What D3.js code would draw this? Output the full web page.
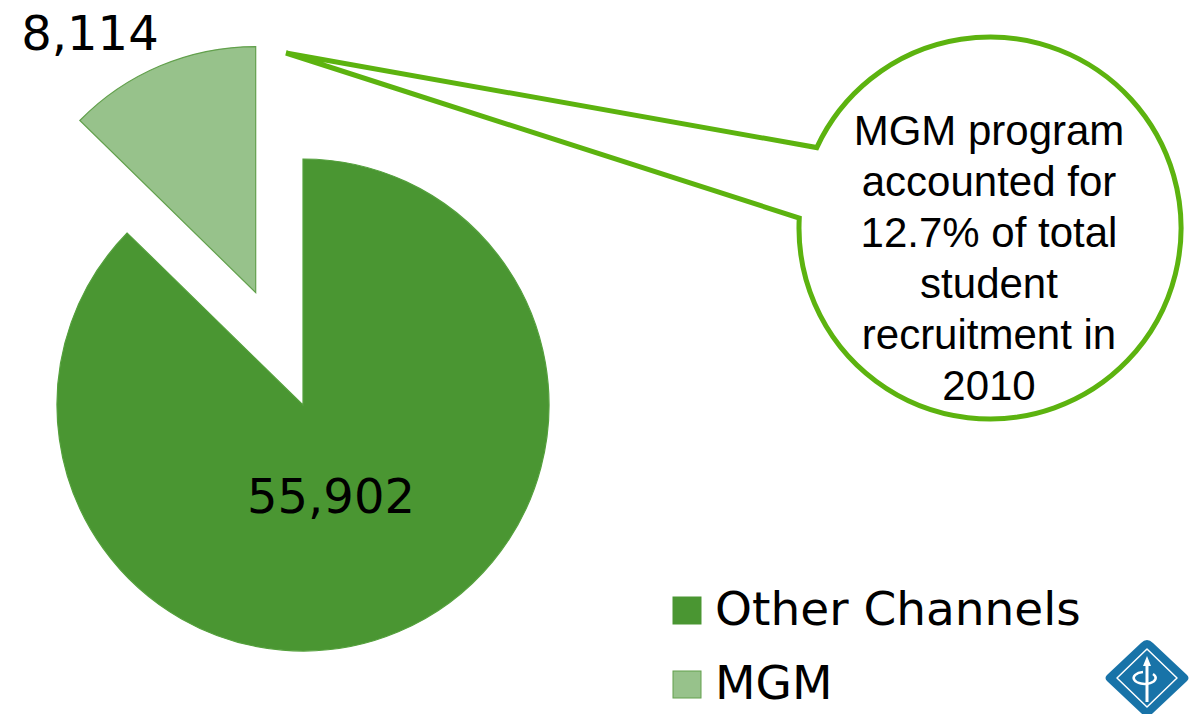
<!DOCTYPE html>
<html lang="en">
<head>
    <meta charset="UTF-8">
    <title>MGM share of student recruitment 2010</title>
    <script src="https://cdn.jsdelivr.net/npm/d3@7"></script>
    <style>
        body { margin: 0; background: #fff; }
        svg { display: block; }
    </style>
</head>
<body>
    <svg width="1190" height="714"></svg>
    <script>
        // data
        var channels = ['Other Channels', 'MGM'];
        var recruits = [55902, 8114];
        var colors = ['#4a9632', '#97c28b'];
        var strokes = ['#54a03c', '#62a04c'];
        var calloutLines = ['MGM program', 'accounted for', '12.7% of total', 'student', 'recruitment in', '2010'];

        var svg = d3.select('svg');

        // pie
        var cx = 303, cy = 405, r = 246, explode = 122;
        var pie = d3.pie().sort(null)(recruits);
        var arc = d3.arc().innerRadius(0).outerRadius(r);

        function offset(d, i) {
            if (i !== 1) return [0, 0];
            var a = (d.startAngle + d.endAngle) / 2;
            return [Math.sin(a) * explode, -Math.cos(a) * explode];
        }

        var slices = svg.append('g').attr('transform', 'translate(' + cx + ',' + cy + ')');
        slices.selectAll('path')
            .data(pie)
            .enter().append('path')
            .attr('d', arc)
            .attr('transform', function (d, i) {
                var o = offset(d, i);
                return 'translate(' + o[0] + ',' + o[1] + ')';
            })
            .style('fill', function (d, i) { return colors[i]; })
            .style('stroke', function (d, i) { return strokes[i]; })
            .style('stroke-width', 1.2);

        // value labels
        var fmt = d3.format(',');
        var labelPos = [[331, 513], [90, 50]];
        svg.append('g').selectAll('text')
            .data(recruits)
            .enter().append('text')
            .attr('x', function (d, i) { return labelPos[i][0]; })
            .attr('y', function (d, i) { return labelPos[i][1]; })
            .attr('text-anchor', 'middle')
            .style('font-family', 'Verdana, "DejaVu Sans", sans-serif')
            .style('font-size', '48px')
            .style('fill', '#000')
            .text(function (d) { return fmt(d); });

        // callout bubble
        var bx = 990, by = 228, br = 191;
        var tip = [286, 53];
        var a1 = 204.9 * Math.PI / 180, a2 = 183 * Math.PI / 180;
        var p1 = [bx + br * Math.cos(a1), by + br * Math.sin(a1)];
        var p2 = [bx + br * Math.cos(a2), by + br * Math.sin(a2)];
        var bubble = ['M', tip[0], tip[1], 'L', p1[0], p1[1],
            'A', br, br, 0, 1, 1, p2[0], p2[1], 'Z'].join(' ');
        svg.append('path')
            .attr('d', bubble)
            .style('fill', '#fff')
            .style('stroke', '#5cb30f')
            .style('stroke-width', 5)
            .style('stroke-linejoin', 'miter')
            .style('stroke-linecap', 'round');

        svg.append('g').selectAll('text')
            .data(calloutLines)
            .enter().append('text')
            .attr('x', 989)
            .attr('y', function (d, i) { return 145 + i * 51; })
            .attr('text-anchor', 'middle')
            .style('font-family', 'Arial, "Liberation Sans", sans-serif')
            .style('font-size', '42px')
            .style('fill', '#000')
            .text(function (d) { return d; });

        // legend
        var legend = svg.append('g').selectAll('g')
            .data(channels)
            .enter().append('g')
            .attr('transform', function (d, i) { return 'translate(673,' + (597 + i * 74) + ')'; });
        legend.append('rect')
            .attr('width', 28).attr('height', 27)
            .style('fill', function (d, i) { return colors[i]; })
            .style('stroke', function (d, i) { return i ? '#62a04c' : '#4a9632'; })
            .style('stroke-width', 1);
        legend.append('text')
            .attr('x', 42).attr('y', 28)
            .style('font-family', 'Verdana, "DejaVu Sans", sans-serif')
            .style('font-size', '47px')
            .style('fill', '#000')
            .text(function (d) { return d; });

        // logo
        var logo = svg.append('g').attr('transform', 'translate(1147,678)');
        logo.append('path')
            .attr('d', 'M0,-38 Q3,-38 6,-35 L40,-3 Q43,0 40,3 L6,35 Q3,38 0,38 Q-3,38 -6,35 L-40,3 Q-43,0 -40,-3 L-6,-35 Q-3,-38 0,-38 Z')
            .style('fill', '#1873a8');
        logo.append('path')
            .attr('d', 'M0,-29 L30,0 L0,29 L-30,0 Z')
            .style('fill', 'none')
            .style('stroke', '#fff')
            .style('stroke-width', 1.5)
            .style('stroke-linejoin', 'round');
        logo.append('path')
            .attr('d', 'M0,-22 L-4,-12 L-1.5,-12 L-1.5,24 L1.5,24 L1.5,-12 L4,-12 Z')
            .style('fill', '#fff');
        logo.append('path')
            .attr('d', 'M-4,-6 A11,6 0 1 0 6,-4')
            .style('fill', 'none')
            .style('stroke', '#fff')
            .style('stroke-width', 2.5);
    </script>
</body>
</html>
